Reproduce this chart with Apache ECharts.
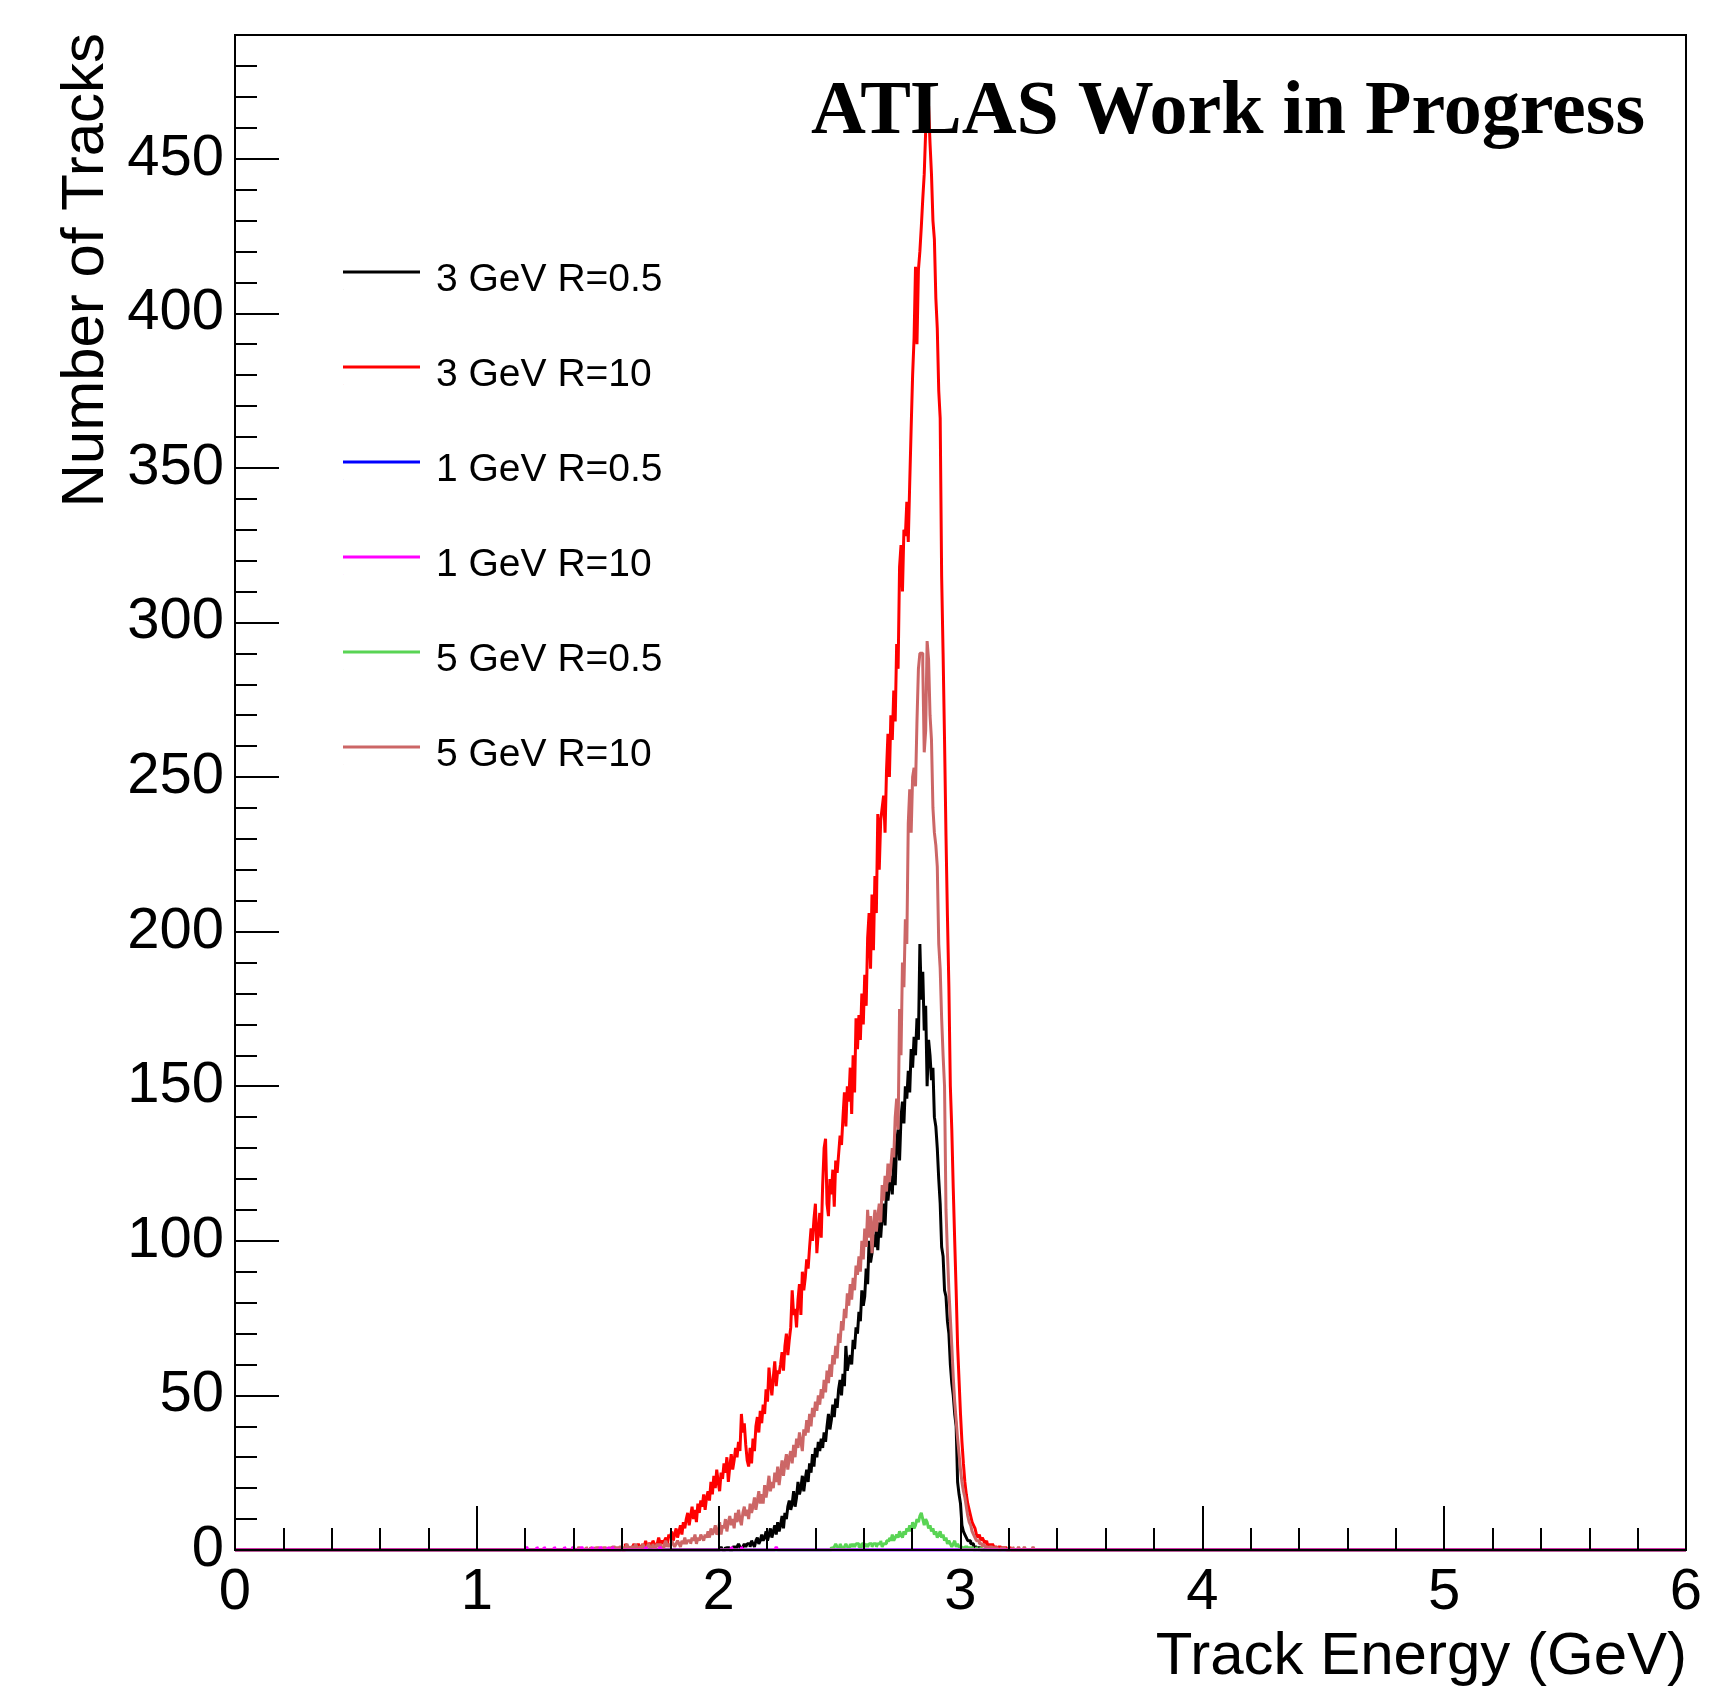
<!DOCTYPE html>
<html>
<head>
<meta charset="utf-8">
<title>Track Energy</title>
<script src="https://cdn.jsdelivr.net/npm/echarts@6/dist/echarts.min.js"></script>
<style>
  html, body { margin: 0; padding: 0; background: #fff; }
  #chart { width: 1714px; height: 1689px; }
</style>
</head>
<body>
<div id="chart"></div>
<script>
// ---------------- data ----------------
const BIN_WIDTH = 0.006;          // GeV per bin
const X_MIN = 0, X_MAX = 6;
const Y_MIN = 0, Y_MAX = 490;

const xTickValues = [0, 1, 2, 3, 4, 5, 6];
const yTickValues = [0, 50, 100, 150, 200, 250, 300, 350, 400, 450];

const seriesNames = ['3 GeV R=0.5', '3 GeV R=10', '1 GeV R=0.5', '1 GeV R=10', '5 GeV R=0.5', '5 GeV R=10'];
const seriesColors = ['#000000', '#ff0000', '#0000ff', '#ff00ff', '#59d454', '#cc6666'];

// 3 GeV R=0.5 (black), first bin low edge
const black3Start = 2.004;
const black3 = [
  0,1,0,0,1,0,1,0,0,1,
  1,0,1,2,1,0,1,2,1,2,
  2,1,3,2,1,3,4,2,3,5,
  3,4,6,3,5,7,4,6,8,5,
  9,6,8,11,7,12,10,14,16,13,
  15,19,14,17,22,18,20,24,19,23,
  26,22,28,25,31,27,33,30,35,32,
  36,33,38,35,40,44,39,42,47,43,
  49,46,52,55,50,57,53,66,58,61,
  63,60,68,65,72,70,77,74,84,79,
  82,91,86,100,93,96,102,98,104,97,
  106,101,108,112,105,116,113,118,121,115,
  128,118,132,136,126,140,145,138,150,146,
  155,148,162,156,166,160,172,165,196,178,
  187,168,176,150,165,160,152,156,140,137,
  130,120,112,98,95,84,82,74,70,60,
  54,50,44,40,22,18,15,8,6,5,
  4,3,3,2,2,1,1,1,0,1
];

// 3 GeV R=10 (red)
const red3Start = 1.596;
const red3 = [
  1,0,0,2,1,0,1,0,1,2,
  0,1,2,1,0,2,1,3,1,2,
  2,1,3,2,1,2,4,2,3,2,
  3,4,2,5,4,6,3,5,7,4,
  6,8,5,9,7,10,12,8,11,14,
  10,13,9,15,12,16,14,18,13,17,
  19,16,22,18,24,20,26,22,19,25,
  23,28,25,30,22,27,31,26,29,33,
  30,35,32,44,38,41,34,29,27,33,
  28,36,32,40,43,38,45,41,47,44,
  52,48,59,54,50,56,61,53,58,57,
  60,64,58,66,70,63,68,72,84,76,
  78,72,81,86,76,90,84,88,94,91,
  98,104,100,107,112,96,103,109,101,118,
  130,133,112,108,120,115,123,111,126,122,
  128,134,131,140,148,137,150,145,156,141,
  160,148,172,162,173,165,180,170,186,176,
  198,206,188,212,194,218,206,238,220,236,
  240,244,232,252,264,250,270,262,278,268,
  293,285,318,325,310,330,328,339,326,345,
  363,380,392,415,390,414,420,428,437,445,
  459,462,467,455,445,430,424,405,395,375,
  366,315,290,262,231,205,182,150,136,117,
  100,84,66,55,44,35,28,22,18,15,
  13,11,9,8,7,5,4,5,3,4,
  3,2,3,1,2,1,2,1,1,0,
  1,1,0,1,0,1,0,0,1
];

// 1 GeV R=0.5 (blue) - no visible entries
const blue1Start = 1.2;
const blue1 = [];

// 1 GeV R=10 (magenta)
const magenta1Start = 1.2;
const magenta1 = [
  0,1,0,0,0,0,0,0,1,0,
  0,0,0,1,0,0,0,0,0,0,
  1,0,0,0,0,0,0,1,0,0,
  0,0,0,1,0,0,0,0,0,1,
  0,0,0,0,0,0,1,0,0,0,
  0,0,1,0,0,0,0,1,0,0,
  1,0,0,0,0,0,0,0,0,0,
  0,0,0,0,0,0,0,0,0,0,
  0,0,0,1,0,0,0,0,0,0,
  0,0,0,1,0,0,0,0,0,0,
  0,0,0,0,0,0,0,0,0,0,
  0,0,0,0,0,0,0,0,0,0,
  0,0,0,0,0,0,0,0,0,0,
  0,0,0,0,0,0,0,0,0,0,
  0,0,1,0,0,0,0,0,0,1,
  0,0,0,0,0,0,0,0,0,0,
  0,0,0,0,0,0,0,0,0,0,
  0,0,0,1,0,0,0,0,0,0
];

// 5 GeV R=0.5 (green)
const green5Start = 2.466;
const green5 = [
  1,0,1,2,1,1,2,1,0,1,
  2,1,1,2,1,2,1,2,2,1,
  1,2,2,1,2,1,2,2,1,2,
  2,1,2,2,3,1,2,2,3,3,
  4,3,5,3,4,5,4,6,5,4,
  6,5,7,6,8,6,9,7,8,10,
  9,11,12,10,8,10,9,7,8,6,
  7,5,6,4,5,6,4,5,3,4,
  2,3,2,1,2,3,1,2,1,1,
  1,0,1,1,0,1,0,1,0,0,
  1,0,0,1
];

// 5 GeV R=10 (rose)
const rose5Start = 1.398;
const rose5 = [
  1,0,0,0,1,0,0,0,0,1,
  0,0,1,0,0,1,0,1,0,0,
  1,0,1,0,0,1,0,1,1,0,
  1,0,1,1,0,1,0,2,1,0,
  1,1,0,2,1,0,1,1,2,1,
  0,1,2,1,1,2,0,1,2,1,
  2,1,1,2,3,1,2,1,3,2,
  1,2,3,2,1,3,2,4,2,3,
  3,2,4,3,5,2,4,3,5,4,
  3,5,4,6,4,7,5,6,8,5,
  6,9,5,8,7,10,6,9,11,8,
  10,7,12,9,13,10,8,12,14,11,
  13,10,15,12,14,17,13,16,19,15,
  18,15,21,17,20,24,19,22,20,25,
  22,27,21,25,29,24,28,31,26,30,
  32,28,34,30,36,33,38,35,32,39,
  37,42,38,44,40,46,43,48,45,50,
  47,52,49,55,51,58,54,60,56,63,
  60,66,62,70,67,74,71,78,75,83,
  79,86,81,88,84,92,89,95,90,100,
  94,104,98,110,101,108,96,105,110,103,
  108,112,106,118,113,121,116,125,119,124,
  130,127,140,146,136,175,160,190,182,204,
  196,235,246,232,250,253,247,268,285,290,
  290,286,258,265,294,288,270,262,240,232,
  228,221,196,188,172,160,150,110,96,84,
  75,66,56,48,42,36,31,26,22,19,
  17,14,11,9,8,6,5,4,3,3,
  2,2,1,2,1,1,0,1,1,0,
  1,0,1,0,0,1,0,1,0,0,
  1,0,0,1,0,0,0,1,0,0,
  0,1,0,0,0,0,0,1
];

// ---------------- build step histograms ----------------
function histPoints(start, values) {
  const pts = [[X_MIN, 0]];
  for (let i = 0; i < values.length; i++) {
    pts.push([+(start + i * BIN_WIDTH).toFixed(4), values[i]]);
  }
  pts.push([+(start + values.length * BIN_WIDTH).toFixed(4), 0]);
  pts.push([X_MAX, 0]);
  return pts;
}

const histData = {
  '3 GeV R=0.5': histPoints(black3Start, black3),
  '3 GeV R=10': histPoints(red3Start, red3),
  '1 GeV R=0.5': histPoints(blue1Start, blue1),
  '1 GeV R=10': histPoints(magenta1Start, magenta1),
  '5 GeV R=0.5': histPoints(green5Start, green5),
  '5 GeV R=10': histPoints(rose5Start, rose5)
};

// drawing order (last on top)
const drawOrder = ['1 GeV R=0.5', '3 GeV R=0.5', '3 GeV R=10', '5 GeV R=0.5', '5 GeV R=10', '1 GeV R=10'];

const series = drawOrder.map(function (name) {
  const idx = seriesNames.indexOf(name);
  return {
    name: name,
    type: 'line',
    step: 'end',
    symbol: 'none',
    showSymbol: false,
    xAxisIndex: 0,
    yAxisIndex: 0,
    z: 2,
    data: histData[name],
    color: seriesColors[idx],
    lineStyle: { color: seriesColors[idx], width: 3 },
    itemStyle: { color: seriesColors[idx] },
    animation: false,
    silent: true,
    clip: true
  };
});

const FONT = '"Liberation Sans", Arial, Helvetica, sans-serif';

const chart = echarts.init(document.getElementById('chart'), null, { renderer: 'canvas' });
chart.setOption({
  backgroundColor: '#ffffff',
  animation: false,
  grid: {
    left: 235, right: 28, top: 35, bottom: 139,
    show: true, borderColor: '#000', borderWidth: 2, backgroundColor: 'transparent'
  },
  legend: {
    orient: 'vertical',
    left: 338,
    top: 255,
    // a 3px-high line at the top of the icon box (the tiny square only extends the box)
    icon: 'path://M0,0L77,0L77,3L0,3Z M0,18.8L0.2,18.8L0.2,19L0,19Z',
    itemWidth: 77,
    itemHeight: 19,
    itemGap: 55,
    data: seriesNames,
    selectedMode: false,
    formatter: function (name) { return '{gap|}{t|' + name + '}'; },
    textStyle: {
      fontFamily: FONT, fontSize: 39, color: '#000', lineHeight: 40,
      rich: {
        gap: { width: 11, lineHeight: 40 },
        t: { fontFamily: FONT, fontSize: 39, color: '#000', lineHeight: 40 }
      }
    }
  },
  xAxis: [{
    type: 'value',
    min: X_MIN, max: X_MAX, interval: 1,
    position: 'bottom',
    z: 10,
    axisLine: { show: true, onZero: false, lineStyle: { color: '#000', width: 2 } },
    axisTick: { show: true, inside: true, length: 44, lineStyle: { color: '#000', width: 2 } },
    minorTick: { show: true, splitNumber: 5, length: 22, lineStyle: { color: '#000', width: 2 } },
    axisLabel: {
      fontFamily: FONT, fontSize: 58, color: '#000', margin: 14,
      formatter: function (v) { return xTickValues.indexOf(v) >= 0 ? String(v) : ''; }
    },
    splitLine: { show: false }
  }],
  yAxis: [{
    type: 'value',
    min: Y_MIN, max: Y_MAX, interval: 50,
    position: 'left',
    z: 10,
    axisLine: { show: true, onZero: false, lineStyle: { color: '#000', width: 2 } },
    axisTick: { show: true, inside: true, length: 44, lineStyle: { color: '#000', width: 2 } },
    axisLabel: {
      fontFamily: FONT, fontSize: 58, color: '#000', margin: 11, showMaxLabel: false,
      formatter: function (v) { return yTickValues.indexOf(v) >= 0 ? String(v) : ''; }
    },
    splitLine: { show: false }
  }, {
    type: 'value',
    min: Y_MIN, max: Y_MAX, interval: 10,
    position: 'left',
    offset: 0,
    z: 10,
    axisLine: { show: false },
    axisTick: { show: true, inside: true, length: 22, lineStyle: { color: '#000', width: 2 } },
    axisLabel: { show: false },
    splitLine: { show: false }
  }],
  graphic: [{
    type: 'text',
    x: 86, y: 33,
    rotation: Math.PI / 2,
    z: 100,
    style: {
      text: 'Number of Tracks',
      fontFamily: FONT, fontSize: 60, fill: '#000',
      align: 'right', verticalAlign: 'middle'
    }
  }, {
    type: 'text',
    x: 1687, y: 1657,
    z: 100,
    style: {
      text: 'Track Energy (GeV)',
      fontFamily: FONT, fontSize: 60, fill: '#000',
      align: 'right', verticalAlign: 'middle'
    }
  }, {
    type: 'text',
    x: 1645, y: 113,
    z: 100,
    style: {
      text: 'ATLAS Work in Progress',
      fontFamily: '"Liberation Serif", "Times New Roman", serif',
      fontWeight: 'bold', fontSize: 76, fill: '#000',
      align: 'right', verticalAlign: 'middle'
    }
  }],
  series: series
});
</script>
</body>
</html>
